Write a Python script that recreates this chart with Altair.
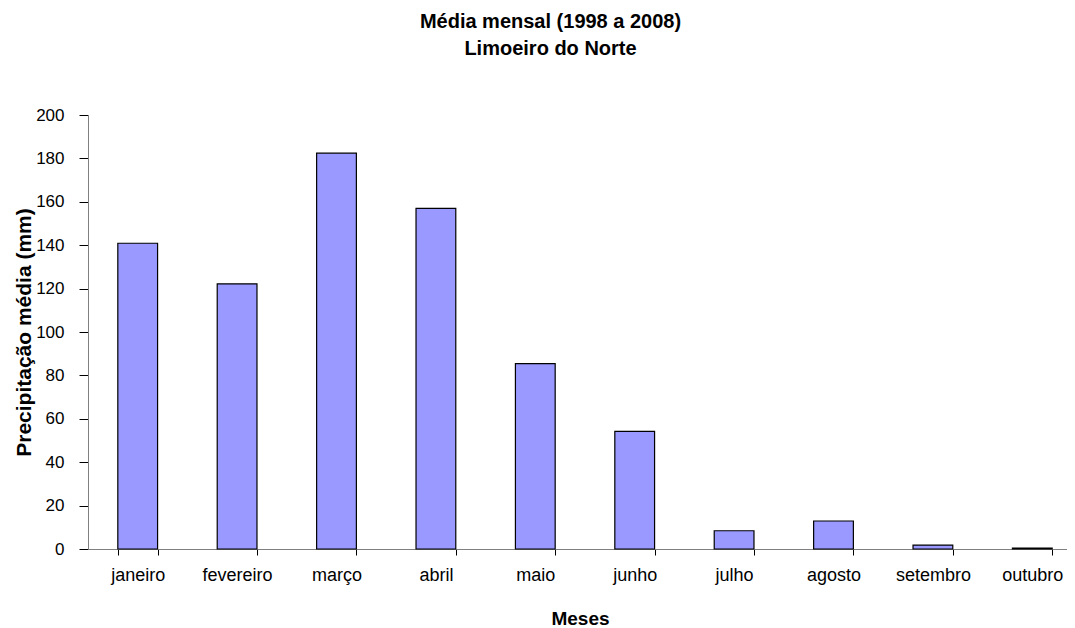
import altair as alt
import pandas as pd

meses = ["janeiro", "fevereiro", "março", "abril", "maio", "junho",
         "julho", "agosto", "setembro", "outubro"]
precip = [140.9, 122.2, 182.4, 157.0, 85.4, 54.2, 8.4, 12.9, 1.8, 0.4]

df = pd.DataFrame({"mes": meses, "valor": precip})

FONT = "Liberation Sans"

chart = alt.Chart(df).mark_bar(
    color="#9999FF", stroke="#000000", strokeWidth=1.2
).encode(
    x=alt.X("mes:N", sort=meses,
            scale=alt.Scale(paddingInner=0.6, paddingOuter=0.3, range=[0, 994]),
            axis=alt.Axis(title="Meses", labelAngle=0, tickBand="extent",
                          labelFont=FONT, labelFontSize=18, labelColor="#000",
                          titleFont=FONT, titleFontSize=19, titleFontWeight="bold",
                          titleColor="#000", titlePadding=25, labelPadding=11,
                          titleX=492, titleAnchor="middle",
                          domainColor="#808080", tickColor="#000", tickSize=6)),
    y=alt.Y("valor:Q",
            scale=alt.Scale(domain=[0, 200], nice=False),
            axis=alt.Axis(title="Precipitação média (mm)", values=list(range(0, 201, 20)),
                          grid=False, labelFont=FONT, labelFontSize=17, labelColor="#000",
                          titleFont=FONT, titleFontSize=21, titleFontWeight="bold",
                          titleColor="#000", titlePadding=1, labelPadding=15,
                          domainColor="#808080", tickColor="#000", tickSize=9)),
).properties(
    width=979, height=434,
    title=alt.TitleParams(["Média mensal (1998 a 2008)", "Limoeiro do Norte"],
                          font=FONT, fontSize=20, fontWeight="bold", color="#000",
                          anchor="middle", offset=47, dx=-27, lineHeight=27),
    autosize=alt.AutoSizeParams(type="none"),
    padding={"left": 80, "top": 107, "right": 0, "bottom": 78},
).configure_view(stroke=None)

chart.save("out.html", embed_options={"renderer": "svg", "actions": False})
